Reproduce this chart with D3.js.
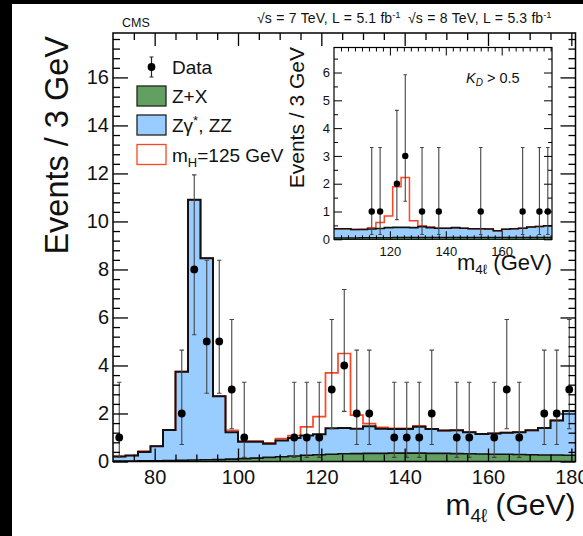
<!DOCTYPE html>
<html>
<head>
<meta charset="utf-8">
<script src="https://cdn.jsdelivr.net/npm/d3@7"></script>
<style>
  html, body { margin: 0; padding: 0; background: #000; }
  svg { display: block; }
  text { font-family: "Liberation Sans", Arial, Helvetica, sans-serif; fill: #111; }
</style>
</head>
<body>
<svg id="chart" width="583" height="536"></svg>
<script>
// ---- Full mass range, 3 GeV bins (low edges) ----
const mainBinLow = [70,73,76,79,82,85,88,91,94,97,100,103,106,109,112,115,118,121,124,127,
                    130,133,136,139,142,145,148,151,154,157,160,163,166,169,172,175,178];
const mainZX    = [0.02,0.02,0.03,0.03,0.04,0.05,0.06,0.07,0.08,0.10,0.12,0.14,0.17,0.20,0.23,
                   0.26,0.28,0.30,0.32,0.33,0.34,0.34,0.35,0.35,0.35,0.34,0.34,0.33,0.32,0.31,
                   0.30,0.30,0.29,0.28,0.27,0.27,0.26];
const mainZZ    = [0.19,0.23,0.37,0.61,1.27,3.69,10.84,8.40,2.64,1.12,0.70,0.68,0.57,0.67,0.75,
                   0.82,0.85,1.08,1.08,1.03,1.13,1.02,1.00,1.00,1.10,1.01,0.95,0.97,0.90,0.84,
                   0.87,0.90,0.93,1.02,1.13,1.44,1.84];
const mainHiggs = [0,0,0.03,0,0,0,0,0,0,0.08,0.03,0.03,0.04,0.08,0.10,
                   0.36,0.74,2.31,3.10,0.57,0.11,0.06,0.03,0.03,0.03,0.01,0,0,0,0,
                   0,0,0,0,0,0,0];
const mainData  = [1,0,0,0,0,2,8,5,5,3,1,0,0,0,1,1,1,3,4,2,2,0,1,1,1,2,0,1,1,0,1,3,1,0,2,2,3];

// ---- K_D > 0.5 selection, 3 GeV bins (low edges) ----
const insetBinLow = [100,103,106,109,112,115,118,121,124,127,130,133,136,139,142,145,148,151,
                     154,157,160,163,166,169,172,175];
const insetZX    = [0.05,0.05,0.05,0.06,0.06,0.06,0.06,0.07,0.07,0.07,0.07,0.07,0.07,0.07,0.07,
                    0.07,0.07,0.07,0.07,0.07,0.07,0.07,0.07,0.07,0.07,0.07];
const insetZZ    = [0.33,0.33,0.30,0.29,0.31,0.33,0.36,0.36,0.36,0.35,0.38,0.35,0.33,0.33,0.35,
                    0.33,0.31,0.31,0.30,0.24,0.29,0.31,0.33,0.37,0.39,0.42];
const insetHiggs = [0,0,0,0.01,0.05,0.21,0.42,1.46,1.79,0.25,0.04,0.02,0,0,0,
                    0,0,0,0,0,0,0,0,0,0,0];
const insetData  = [0,0,0,0,1,1,0,2,3,0,1,0,1,0,0,0,0,1,0,0,0,0,1,0,1,1];

// Poisson 68% interval per observed count (index = count)
const errLow  = [0, 0.173, 0.708, 1.367, 2.086, 2.840, 3.620, 4.420, 5.280];
const errHigh = [1.841, 3.300, 4.638, 5.918, 7.163, 8.382, 9.584, 10.77, 11.94];

const binWidth = 3;

// axis ticks
const mainXMajor = [80,100,120,140,160,180];
const mainYMajor = [0,2,4,6,8,10,12,14,16];
const insetXMajor = [120,140,160];
const insetYMajor = [0,1,2,3,4,5,6];

const colZX = "#62a062", colZZ = "#99ccff", colH = "#ff4422";
const FONT = '"Liberation Sans", Arial, Helvetica, sans-serif';

const svg = d3.select("#chart");
svg.append("rect").attr("width", 583).attr("height", 536).attr("fill", "#000");
svg.append("rect").attr("x", 12).attr("y", 4).attr("width", 571).attr("height", 532).attr("fill", "#fff");

function stepRows(lows, vals) {
  const rows = lows.map((lo, i) => ({ x: lo, v: vals[i] }));
  rows.push({ x: lows[lows.length - 1] + binWidth, v: vals[vals.length - 1] });
  return rows;
}
function sumArr(...arrs) { return arrs[0].map((_, i) => arrs.reduce((s, a) => s + a[i], 0)); }

function drawAxes(g, xs, ys, fr, opt) {
  const style = sel => {
    sel.select(".domain").remove();
    sel.attr("font-family", FONT).attr("font-size", opt.font).attr("color", "#000");
    sel.selectAll("line").attr("stroke-width", opt.tickW);
    sel.selectAll("text").attr("fill", "#111");
  };
  const mk = (gen, vals, size, labels, pad) =>
    gen.tickValues(vals).tickSizeInner(size).tickSizeOuter(0).tickPadding(pad)
       .tickFormat(labels ? d3.format("d") : () => "");
  // bottom / left with labels
  g.append("g").attr("transform", `translate(0,${fr.bottom})`)
    .call(mk(d3.axisBottom(xs), opt.xMajor, -opt.xMajLen, true, opt.xPad)).call(style);
  g.append("g").attr("transform", `translate(0,${fr.bottom})`)
    .call(mk(d3.axisBottom(xs), opt.xMinor, -opt.xMinLen, false, 0)).call(style);
  g.append("g").attr("transform", `translate(${fr.left},0)`)
    .call(mk(d3.axisLeft(ys), opt.yMajor, -opt.yMajLen, true, opt.yPad)).call(style);
  g.append("g").attr("transform", `translate(${fr.left},0)`)
    .call(mk(d3.axisLeft(ys), opt.yMinor, -opt.yMinLen, false, 0)).call(style);
  // mirrored top / right
  g.append("g").attr("transform", `translate(0,${fr.top})`)
    .call(mk(d3.axisTop(xs), opt.xMajor, -opt.xMajLen, false, 0)).call(style);
  g.append("g").attr("transform", `translate(0,${fr.top})`)
    .call(mk(d3.axisTop(xs), opt.xMinor, -opt.xMinLen, false, 0)).call(style);
  g.append("g").attr("transform", `translate(${fr.right},0)`)
    .call(mk(d3.axisRight(ys), opt.yMajor, -opt.yMajLen, false, 0)).call(style);
  g.append("g").attr("transform", `translate(${fr.right},0)`)
    .call(mk(d3.axisRight(ys), opt.yMinor, -opt.yMinLen, false, 0)).call(style);
}

function drawHistPanel(g, xs, ys, fr, d, opt) {
  const clipId = opt.id + "-clip";
  g.append("clipPath").attr("id", clipId).append("rect")
    .attr("x", fr.left).attr("y", fr.top).attr("width", fr.right - fr.left).attr("height", fr.bottom - fr.top);
  const body = g.append("g").attr("clip-path", `url(#${clipId})`);

  const bgTop = sumArr(d.zx, d.zz);
  const sigTop = sumArr(d.zx, d.zz, d.h);
  const rowsZX = stepRows(d.low, d.zx), rowsBG = stepRows(d.low, bgTop), rowsSig = stepRows(d.low, sigTop);

  const area = d3.area().curve(d3.curveStepAfter).x(r => xs(r.x));
  const line = d3.line().curve(d3.curveStepAfter).x(r => xs(r.x)).y(r => ys(r.v));

  // Z gamma*, ZZ on top of Z+X
  body.append("path").datum(rowsBG.map((r, i) => ({ x: r.x, y0: rowsZX[i].v, y1: r.v })))
    .attr("d", area.y0(r => ys(r.y0)).y1(r => ys(r.y1))).attr("fill", colZZ);
  body.append("path").datum(rowsZX)
    .attr("d", d3.area().curve(d3.curveStepAfter).x(r => xs(r.x)).y0(ys(0)).y1(r => ys(r.v)))
    .attr("fill", colZX);
  // signal outline, then background outlines
  body.append("path").datum(rowsSig).attr("d", line).attr("fill", "none")
    .attr("stroke", colH).attr("stroke-width", opt.sigW);
  body.append("path").datum(rowsZX).attr("d", line).attr("fill", "none")
    .attr("stroke", "#111").attr("stroke-width", opt.lineW * 0.8);
  body.append("path").datum(rowsBG).attr("d", line).attr("fill", "none")
    .attr("stroke", "#111").attr("stroke-width", opt.lineW);

  // data points with Poisson error bars
  const pts = d.low.map((lo, i) => ({ c: lo + binWidth / 2, n: d.data[i] })).filter(p => p.n > 0);
  const eg = body.append("g").attr("stroke", "#444").attr("stroke-width", 1.1);
  pts.forEach(p => {
    const cx = xs(p.c), lo = ys(errLow[p.n]), hi = ys(errHigh[p.n]);
    eg.append("line").attr("x1", cx).attr("x2", cx).attr("y1", lo).attr("y2", hi);
    eg.append("line").attr("x1", cx - opt.cap).attr("x2", cx + opt.cap).attr("y1", lo).attr("y2", lo);
    eg.append("line").attr("x1", cx - opt.cap).attr("x2", cx + opt.cap).attr("y1", hi).attr("y2", hi);
  });
  body.append("g").selectAll("circle").data(pts).join("circle")
    .attr("cx", p => xs(p.c)).attr("cy", p => ys(p.n)).attr("r", opt.r).attr("fill", "#000");

  g.append("rect").attr("x", fr.left).attr("y", fr.top)
    .attr("width", fr.right - fr.left).attr("height", fr.bottom - fr.top)
    .attr("fill", "none").attr("stroke", "#000").attr("stroke-width", opt.frameW);
}

// ================= main panel =================
const fr = { left: 113, right: 575.5, top: 33, bottom: 461.5 };
const x = d3.scaleLinear().domain([70, 181]).range([fr.left, fr.right]);
const y = d3.scaleLinear().domain([0, 17.85]).range([fr.bottom, fr.top]);
const gMain = svg.append("g");

drawHistPanel(gMain, x, y, fr,
  { low: mainBinLow, zx: mainZX, zz: mainZZ, h: mainHiggs, data: mainData },
  { id: "main", lineW: 2, sigW: 1.7, cap: 2.2, r: 3.9, frameW: 1.5 });

drawAxes(gMain, x, y, fr, {
  font: 20, tickW: 1.3,
  xMajor: mainXMajor, xMinor: d3.range(75, 181, 5).filter(v => v % 20 !== 0),
  yMajor: mainYMajor, yMinor: d3.range(1, 45).filter(i => i % 5 !== 0).map(i => +(i * 0.4).toFixed(1)).filter(v => v < 17.85),
  xMajLen: 13, xMinLen: 7, yMajLen: 15, yMinLen: 7, xPad: 8, yPad: 4
});

// axis titles
const xt = gMain.append("text").attr("x", fr.right).attr("y", 515).attr("text-anchor", "end")
  .attr("font-size", 30);
xt.append("tspan").text("m");
xt.append("tspan").attr("font-size", 19).attr("dy", 7).text("4ℓ");
xt.append("tspan").attr("dy", -7).text(" (GeV)");

gMain.append("text").attr("transform", "translate(68,36) rotate(-90)")
  .attr("text-anchor", "end").attr("font-size", 32.5).text("Events / 3 GeV");

// header
svg.append("text").attr("x", 122).attr("y", 27).attr("font-size", 12.5).text("CMS");
[["√s = 7 TeV, L = 5.1 fb", 257], ["√s = 8 TeV, L = 5.3 fb", 408]].forEach(([s, px]) => {
  const t = svg.append("text").attr("x", px).attr("y", 23).attr("font-size", 14)
    .attr("word-spacing", 0.6);
  t.append("tspan").text(s);
  t.append("tspan").attr("font-size", 9.5).attr("dy", -5).text("-1");
});

// legend
const leg = gMain.append("g");
leg.append("line").attr("x1", 151.5).attr("x2", 151.5).attr("y1", 57).attr("y2", 77).attr("stroke", "#222").attr("stroke-width", 1.2);
leg.append("line").attr("x1", 149.5).attr("x2", 153.5).attr("y1", 57).attr("y2", 57).attr("stroke", "#222");
leg.append("line").attr("x1", 149.5).attr("x2", 153.5).attr("y1", 77).attr("y2", 77).attr("stroke", "#222");
leg.append("circle").attr("cx", 151.5).attr("cy", 67).attr("r", 3.9).attr("fill", "#000");
leg.append("text").attr("x", 172).attr("y", 74).attr("font-size", 19).text("Data");

const boxes = [
  { cy: 96, fill: colZX, stroke: "#222" },
  { cy: 125, fill: colZZ, stroke: "#222" },
  { cy: 154.5, fill: "#fff", stroke: colH }
];
boxes.forEach(b => leg.append("rect").attr("x", 137).attr("y", b.cy - 10).attr("width", 29).attr("height", 20)
  .attr("fill", b.fill).attr("stroke", b.stroke).attr("stroke-width", 1.3));
leg.append("text").attr("x", 172).attr("y", 103).attr("font-size", 19).text("Z+X");
const l2 = leg.append("text").attr("x", 172).attr("y", 132).attr("font-size", 19);
l2.append("tspan").text("Zγ");
l2.append("tspan").attr("font-size", 13).attr("dy", -7).text("*");
l2.append("tspan").attr("dy", 7).text(", ZZ");
const l3 = leg.append("text").attr("x", 172).attr("y", 161.5).attr("font-size", 19);
l3.append("tspan").text("m");
l3.append("tspan").attr("font-size", 13).attr("dy", 5).text("H");
l3.append("tspan").attr("dy", -5).text("=125 GeV");

// ================= inset panel =================
const fi = { left: 334, right: 552, top: 47.5, bottom: 239.3 };
const xi = d3.scaleLinear().domain([100, 178]).range([fi.left, fi.right]);
const yi = d3.scaleLinear().domain([0, 6.9]).range([fi.bottom, fi.top]);
const gIn = svg.append("g");
gIn.append("rect").attr("x", fi.left).attr("y", fi.top).attr("width", fi.right - fi.left)
  .attr("height", fi.bottom - fi.top).attr("fill", "#fff");

drawHistPanel(gIn, xi, yi, fi,
  { low: insetBinLow, zx: insetZX, zz: insetZZ, h: insetHiggs, data: insetData },
  { id: "inset", lineW: 1.6, sigW: 1.5, cap: 1.8, r: 3.2, frameW: 1.2 });

drawAxes(gIn, xi, yi, fi, {
  font: 13, tickW: 1,
  xMajor: insetXMajor, xMinor: d3.range(102.5, 178, 2.5).filter(v => v % 20 !== 0),
  yMajor: insetYMajor, yMinor: [0.5, 1.5, 2.5, 3.5, 4.5, 5.5, 6.5],
  xMajLen: 8, xMinLen: 4, yMajLen: 8, yMinLen: 4, xPad: 7, yPad: 4
});

const xti = gIn.append("text").attr("x", fi.right).attr("y", 270).attr("text-anchor", "end").attr("font-size", 22);
xti.append("tspan").text("m");
xti.append("tspan").attr("font-size", 13.5).attr("dy", 4).text("4ℓ");
xti.append("tspan").attr("dy", -4).text(" (GeV)");
gIn.append("text").attr("transform", "translate(304,47) rotate(-90)")
  .attr("text-anchor", "end").attr("font-size", 21).text("Events / 3 GeV");

const kd = gIn.append("text").attr("x", 466).attr("y", 82.5).attr("font-size", 14.5);
kd.append("tspan").attr("font-style", "italic").text("K");
kd.append("tspan").attr("font-style", "italic").attr("font-size", 10).attr("dy", 3).text("D");
kd.append("tspan").attr("dy", -3).text(" > 0.5");
</script>
</body>
</html>
